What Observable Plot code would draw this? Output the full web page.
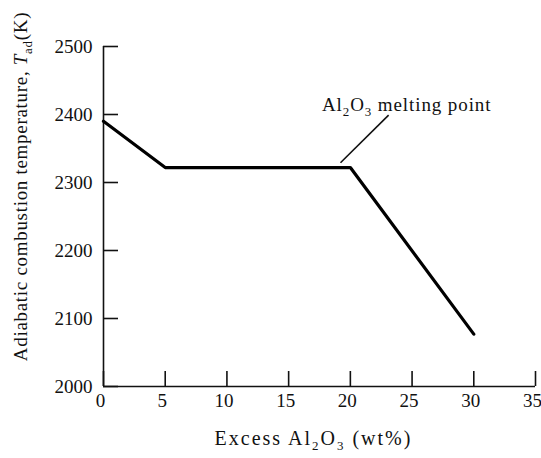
<!DOCTYPE html>
<html>
<head>
<meta charset="utf-8">
<script src="https://cdn.jsdelivr.net/npm/d3@7"></script>
<script src="https://cdn.jsdelivr.net/npm/@observablehq/plot@0.6"></script>
<style>
  html, body { margin: 0; padding: 0; background: #fff; }
  svg { display: block; }
</style>
</head>
<body>
<div id="chart"></div>
<script>
// Data
const excessAl2O3 = [0, 5, 10, 15, 20, 30];          // wt%
const tempAd      = [2390, 2322, 2322, 2322, 2322, 2077]; // K
const xTicks = [0, 5, 10, 15, 20, 25, 30, 35];
const yTicks = [2000, 2100, 2200, 2300, 2400, 2500];
const annotationText = ["Al2O3 melting point"];
const annotationAnchor = [{x: 17.7, y: 2414}];
const leader = [{x1: 19.2, y1: 2329, x2: 23.1, y2: 2399}];

const data = excessAl2O3.map((x, i) => ({x, y: tempAd[i]}));
const FONT = "'Liberation Serif', 'Times New Roman', serif";

const plot = Plot.plot({
  width: 541,
  height: 458,
  marginLeft: 103,
  marginRight: 6,
  marginTop: 46,
  marginBottom: 72,
  style: {fontFamily: FONT, fontSize: "19px", color: "#111", background: "#fff"},
  x: {domain: [0, 35]},
  y: {domain: [2000, 2500]},
  marks: [
    // axis lines
    Plot.ruleX([0], {y1: 2000, y2: 2500, stroke: "#111", strokeWidth: 1.6}),
    Plot.ruleY([2000], {x1: 0, x2: 35, stroke: "#111", strokeWidth: 1.6}),
    // inward ticks
    Plot.axisX(xTicks, {tickSize: -15, tickFormat: () => "", label: null, stroke: "#111", strokeWidth: 1.6}),
    Plot.axisY(yTicks, {anchor: "left", tickSize: -15, tickFormat: () => "", label: null, stroke: "#111", strokeWidth: 1.6}),
    // tick labels
    Plot.axisX(xTicks, {tickSize: 0, tickPadding: 7, dx: -3, label: null, tickFormat: d => String(d), fontSize: 19, fill: "#111"}),
    Plot.axisY(yTicks, {anchor: "left", tickSize: 0, tickPadding: 11, label: null, tickFormat: d => String(d), fontSize: 19, fill: "#111"}),
    // data line
    Plot.line(data, {x: "x", y: "y", stroke: "#000", strokeWidth: 3.2, strokeLinejoin: "miter"}),
    // annotation
    Plot.link(leader, {x1: "x1", y1: "y1", x2: "x2", y2: "y2", stroke: "#111", strokeWidth: 1.6}),
    Plot.text(annotationAnchor, {x: "x", y: "y", text: () => annotationText[0], textAnchor: "start", fontSize: 19, fill: "#111"}),
    // axis titles
    Plot.text(["Excess Al2O3 (wt%)"], {frameAnchor: "bottom", dx: -6, dy: 58, textAnchor: "middle", fontSize: 20, fill: "#111"}),
    Plot.text(["Adiabatic combustion temperature, Tad(K)"], {frameAnchor: "left", dx: -83, dy: -30, rotate: -90, textAnchor: "middle", fontSize: 19, fill: "#111"})
  ]
});

// Rebuild texts with subscripts
function sub(el, parts, spacing) {
  el.textContent = "";
  const ns = "http://www.w3.org/2000/svg";
  const fs = parseFloat(el.getAttribute("font-size") || getComputedStyle(el).fontSize) || 18;
  const shift = fs * 0.3;
  if (spacing) el.setAttribute("letter-spacing", spacing);
  let down = false;
  for (const p of parts) {
    const t = document.createElementNS(ns, "tspan");
    t.textContent = p.t;
    if (p.sub && !down) { t.setAttribute("dy", shift); down = true; }
    else if (!p.sub && down) { t.setAttribute("dy", -shift); down = false; }
    if (p.sub) t.setAttribute("font-size", fs * 0.72);
    if (p.italic) t.setAttribute("font-style", "italic");
    el.appendChild(t);
  }
}
for (const el of plot.querySelectorAll("text")) {
  const s = el.textContent;
  if (s === "Al2O3 melting point") {
    sub(el, [{t: "Al"}, {t: "2", sub: true}, {t: "O"}, {t: "3", sub: true}, {t: " melting point"}], 0.9);
  } else if (s === "Excess Al2O3 (wt%)") {
    sub(el, [{t: "Excess Al"}, {t: "2", sub: true}, {t: "O"}, {t: "3", sub: true}, {t: " (wt%)"}], 2);
  } else if (s === "Adiabatic combustion temperature, Tad(K)") {
    sub(el, [{t: "Adiabatic combustion temperature, "}, {t: "T", italic: true}, {t: "ad", sub: true}, {t: "(K)"}], 0.7);
  }
}
document.getElementById("chart").appendChild(plot);
</script>
</body>
</html>
